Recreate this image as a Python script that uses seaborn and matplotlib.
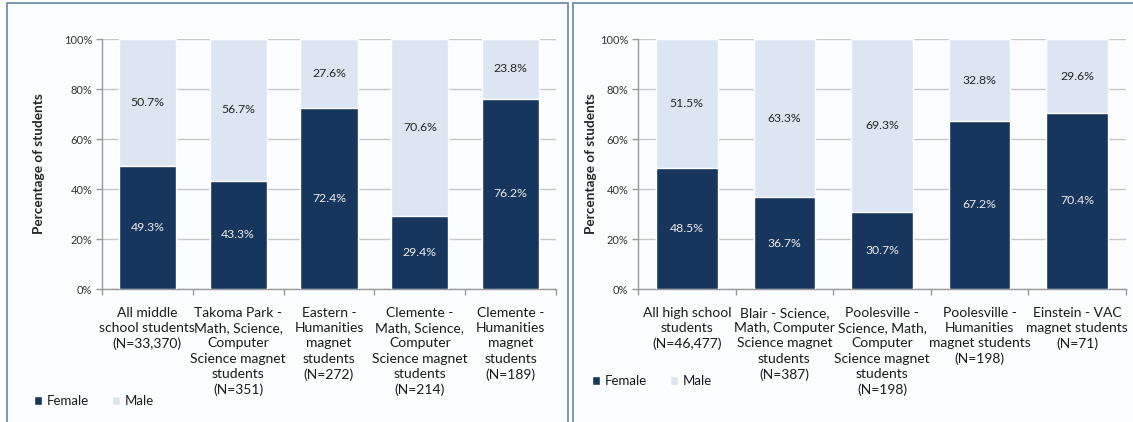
import matplotlib
matplotlib.use("Agg")
import matplotlib.pyplot as plt
from matplotlib.patches import Patch, Rectangle
from matplotlib.ticker import PercentFormatter, FixedLocator
import seaborn as sns
import pandas as pd

# Middle school magnet programs
ms_groups = [
    "All middle\nschool students\n(N=33,370)",
    "Takoma Park -\nMath, Science,\nComputer\nScience magnet\nstudents\n(N=351)",
    "Eastern -\nHumanities\nmagnet\nstudents\n(N=272)",
    "Clemente -\nMath, Science,\nComputer\nScience magnet\nstudents\n(N=214)",
    "Clemente -\nHumanities\nmagnet\nstudents\n(N=189)",
]
ms_female = [49.3, 43.3, 72.4, 29.4, 76.2]
ms_male = [50.7, 56.7, 27.6, 70.6, 23.8]

# High school magnet programs
hs_groups = [
    "All high school\nstudents\n(N=46,477)",
    "Blair - Science,\nMath, Computer\nScience magnet\nstudents\n(N=387)",
    "Poolesville -\nScience, Math,\nComputer\nScience magnet\nstudents\n(N=198)",
    "Poolesville -\nHumanities\nmagnet students\n(N=198)",
    "Einstein - VAC\nmagnet students\n(N=71)",
]
hs_female = [48.5, 36.7, 30.7, 67.2, 70.4]
hs_male = [51.5, 63.3, 69.3, 32.8, 29.6]

y_ticks = [0, 20, 40, 60, 80, 100]

FEMALE = "#17365D"
MALE = "#DCE6F2"
PANEL_BG = "#FBFDFE"
FRAME = "#6F8FAF"
FONT = ["Lato", "DejaVu Sans"]

sns.set_theme(style="white")
plt.rcParams["font.family"] = FONT
plt.rcParams["text.color"] = "#1a1a1a"

fig = plt.figure(figsize=(11.33, 4.22), dpi=100)
fig.patch.set_facecolor("white")

# Panel backgrounds and frames
for x0, x1 in [(7, 568), (573, 1140)]:
    fig.add_artist(Rectangle((x0 / 1133, -0.05), (x1 - x0) / 1133, 1.05 - 3 / 422,
                             transform=fig.transFigure, facecolor=PANEL_BG,
                             edgecolor=FRAME, linewidth=1.3, zorder=-5))


def draw_panel(ax, groups, female, male, legend_xy, ylabel_x):
    df = pd.DataFrame({"group": groups, "female": female, "male": male})
    df["total"] = df["female"] + df["male"]
    ax.set_facecolor(PANEL_BG)
    sns.barplot(data=df, x="group", y="total", color=MALE, width=0.63,
                saturation=1, ax=ax, zorder=2)
    sns.barplot(data=df, x="group", y="female", color=FEMALE, width=0.63,
                saturation=1, ax=ax, zorder=3)
    for i, (f, m) in enumerate(zip(female, male)):
        ax.text(i, f / 2, f"{f:.1f}%", ha="center", va="center",
                fontsize=8.8, color="#EDEDED", zorder=4)
        ax.text(i, f + m / 2, f"{m:.1f}%", ha="center", va="center",
                fontsize=8.8, color="#262626", zorder=4)
    ax.set_ylim(0, 100)
    ax.set_xlim(-0.5, len(groups) - 0.5)
    ax.yaxis.set_major_locator(FixedLocator(y_ticks))
    ax.yaxis.set_major_formatter(PercentFormatter(decimals=0))
    ax.yaxis.grid(True, color="#C8C8C8", linewidth=1.0, zorder=0)
    ax.set_axisbelow(True)
    for side in ["top", "right"]:
        ax.spines[side].set_visible(False)
    for side in ["left", "bottom"]:
        ax.spines[side].set_color("#9A9A9A")
        ax.spines[side].set_linewidth(1.0)
    ax.tick_params(axis="y", which="major", left=True, length=4, width=1,
                   color="#9A9A9A", labelsize=8, labelcolor="#333333", pad=3)
    ax.tick_params(axis="x", which="major", bottom=False, labelsize=10,
                   labelcolor="#1a1a1a", pad=7)
    ax.set_xticks(range(len(groups)))
    ax.set_xticklabels(groups, linespacing=1.32, va="top")
    ax.set_xticks([i - 0.5 for i in range(len(groups) + 1)], minor=True)
    ax.tick_params(axis="x", which="minor", bottom=True, length=4, width=1,
                   color="#9A9A9A")
    ax.set_xlabel("")
    ax.set_ylabel("Percentage of students", fontsize=9.8, fontweight="bold")
    ax.yaxis.set_label_coords(ylabel_x, 0.5)
    handles = [Patch(facecolor=FEMALE, label="Female"),
               Patch(facecolor=MALE, label="Male")]
    fig.legend(handles=handles, loc="center left",
               bbox_to_anchor=legend_xy, bbox_transform=fig.transFigure,
               ncol=2, frameon=False, fontsize=9.5, handlelength=0.6,
               handleheight=0.6, handletextpad=0.35, columnspacing=1.8)


ax1 = fig.add_axes([102 / 1133, 1 - 289 / 422, 454 / 1133, 250 / 422])
ax2 = fig.add_axes([638 / 1133, 1 - 289 / 422, 488 / 1133, 250 / 422])

draw_panel(ax1, ms_groups, ms_female, ms_male, (22 / 1133, 1 - 401 / 422),
           (45 - 102) / 454)
draw_panel(ax2, hs_groups, hs_female, hs_male, (580 / 1133, 1 - 381 / 422),
           (597 - 638) / 488)

fig.savefig("out.png", dpi=100, facecolor=fig.get_facecolor())
